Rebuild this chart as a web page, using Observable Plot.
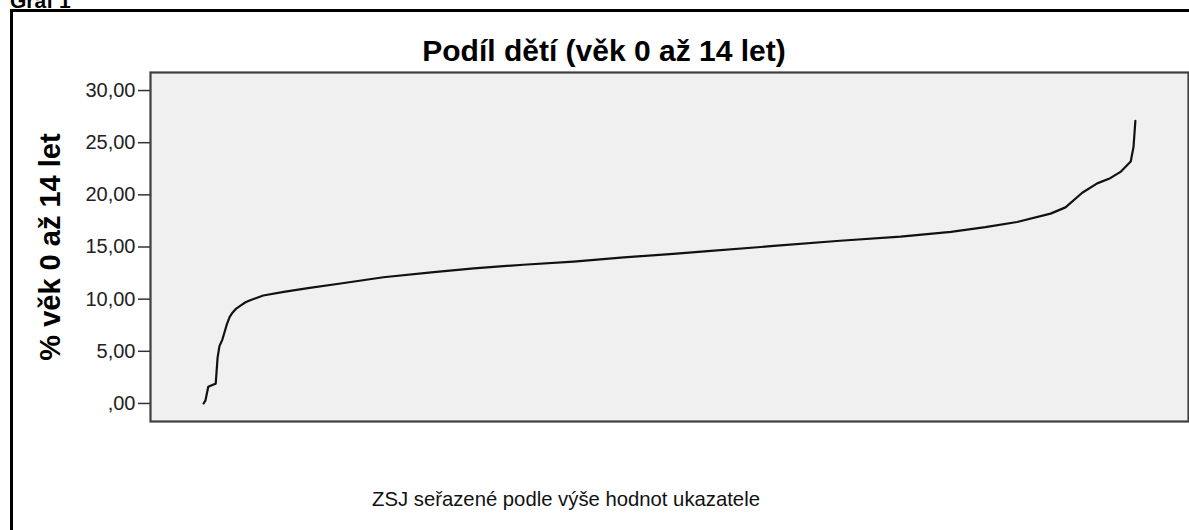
<!DOCTYPE html>
<html>
<head>
<meta charset="utf-8">
<script src="https://cdn.jsdelivr.net/npm/d3@7"></script>
<script src="https://cdn.jsdelivr.net/npm/@observablehq/plot@0.6"></script>
<style>
  html, body { margin: 0; padding: 0; background: #fff; }
  #wrap { position: relative; width: 1189px; height: 530px; overflow: hidden; background: #fff;
          font-family: "Liberation Sans", Arial, sans-serif; color: #000; }
  #outer { position: absolute; left: 10px; top: 9px; width: 1220px; height: 580px;
           border: 3px solid #000; box-sizing: border-box; }
  #graf { position: absolute; left: 10px; top: -10px; font-size: 21px; line-height: 21px; font-weight: bold; white-space: nowrap; }
  #title { position: absolute; left: 604px; top: 36px; transform: translateX(-50%);
           font-size: 30px; line-height: 30px; font-weight: bold; white-space: nowrap; }
  #ylab { position: absolute; left: 50px; top: 247px; transform: translate(-50%, -50%) rotate(-90deg);
          font-size: 29px; line-height: 29px; font-weight: bold; white-space: nowrap; }
  #xlab { position: absolute; left: 566px; top: 489px; transform: translateX(-50%);
          font-size: 20.3px; line-height: 20px; white-space: nowrap; color: #111; }
  #chart { position: absolute; left: 0; top: 0; }
</style>
</head>
<body>
<div id="wrap">
  <div id="outer"></div>
  <div id="chart"></div>
  <div id="graf">Graf 1</div>
  <div id="title">Podíl dětí (věk 0 až 14 let)</div>
  <div id="ylab">% věk 0 až 14 let</div>
  <div id="xlab">ZSJ seřazené podle výše hodnot ukazatele</div>
</div>
<script>
// Rank of the ZSJ in sorted order (percent of all units)
const rankPct = [0, 0.2, 0.5, 1.0, 1.3, 1.5, 1.7, 2.0, 2.3, 2.5, 2.8, 3.1, 3.5, 4.0, 4.5, 5.0,
  6.4, 8.6, 11.2, 14.7, 19.3, 24.7, 29.0, 34.3, 39.7, 45.1, 50.4, 54.1, 61.2, 68.3, 74.8,
  80.2, 83.9, 87.3, 90.9, 92.5, 94.3, 95.9, 97.3, 98.4, 99.5, 99.8, 100];
// Share of children aged 0–14 (%)
const sharePct = [0.0, 0.3, 1.6, 1.8, 1.9, 4.4, 5.5, 6.1, 7.0, 7.6, 8.3, 8.7, 9.1, 9.4, 9.7, 9.9,
  10.35, 10.7, 11.05, 11.5, 12.1, 12.6, 12.95, 13.3, 13.6, 14.0, 14.35, 14.6, 15.1, 15.6, 16.0,
  16.45, 16.9, 17.4, 18.2, 18.8, 20.2, 21.1, 21.6, 22.2, 23.2, 24.6, 27.1];
const yTicks = [0, 5, 10, 15, 20, 25, 30];

const data = rankPct.map((r, i) => ({rank: r, share: sharePct[i]}));
const fmt = d => d === 0 ? ",00" : d.toFixed(2).replace(".", ",");

const chart = Plot.plot({
  width: 1189,
  height: 530,
  marginLeft: 150,
  marginRight: 1,
  marginTop: 72,
  marginBottom: 109,
  style: {background: "transparent", fontFamily: "'Liberation Sans', Arial, sans-serif", overflow: "visible"},
  x: {domain: [-5.7, 105.7], axis: null},
  y: {domain: [-1.73, 31.73], axis: null},
  marks: [
    Plot.frame({fill: "#f0f0f0", stroke: "#3f3f3f", strokeWidth: 2.2}),
    Plot.axisY(yTicks, {tickSize: 12, tickPadding: 3, tickFormat: fmt, fontSize: 20,
      label: null, stroke: "#333", strokeWidth: 1.5, color: "#222"}),
    Plot.line(data, {x: "rank", y: "share", stroke: "#111", strokeWidth: 2.2})
  ]
});
document.getElementById("chart").appendChild(chart);
</script>
</body>
</html>
